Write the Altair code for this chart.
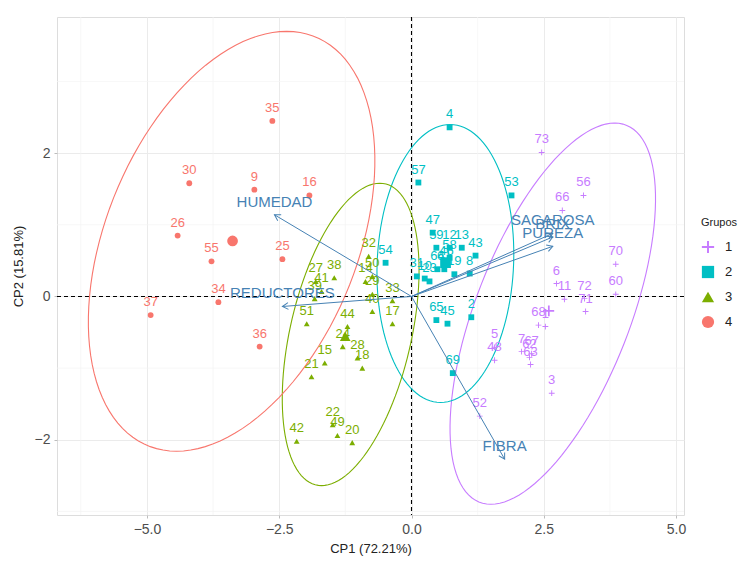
import altair as alt
import numpy as np
import pandas as pd

# ---------------- data ----------------
grupo1_id = [73, 56, 66, 70, 60, 6, 11, 72, 71, 68, 1, 5, 48, 7, 67, 62, 63, 3, 52]
grupo1_x = [2.46, 3.25, 2.85, 3.86, 3.86, 2.74, 2.89, 3.27, 3.29, 2.40, 2.53, 1.57, 1.57, 2.08, 2.27, 2.23, 2.25, 2.65, 1.29]
grupo1_y = [2.01, 1.41, 1.20, 0.45, 0.03, 0.18, -0.04, -0.03, -0.21, -0.40, -0.42, -0.71, -0.89, -0.77, -0.80, -0.85, -0.95, -1.35, -1.67]

grupo2_id = [4, 57, 53, 54, 47, 59, 12, 13, 58, 43, 61, 19, 8, 31, 10, 64, 46, 23, 2, 65, 45, 69]
grupo2_x = [0.72, 0.13, 1.89, -0.49, 0.40, 0.47, 0.72, 0.95, 0.72, 1.21, 0.62, 0.81, 1.10, 0.10, 0.25, 0.49, 0.66, 0.34, 1.13, 0.47, 0.68, 0.78]
grupo2_y = [2.36, 1.59, 1.41, 0.47, 0.89, 0.68, 0.68, 0.68, 0.54, 0.57, 0.38, 0.31, 0.32, 0.28, 0.25, 0.38, 0.45, 0.21, -0.29, -0.33, -0.38, -1.07]

grupo3_id = [32, 50, 14, 38, 27, 41, 39, 51, 44, 24, 28, 18, 15, 21, 22, 49, 20, 42, 29, 33, 17, 40]
grupo3_x = [-0.81, -0.74, -0.87, -1.46, -1.81, -1.70, -1.83, -1.98, -1.21, -1.30, -1.02, -0.93, -1.64, -1.89, -1.49, -1.40, -1.12, -2.17, -0.74, -0.36, -0.36, -0.74]
grupo3_y = [0.56, 0.28, 0.21, 0.26, 0.21, 0.07, -0.03, -0.38, -0.42, -0.70, -0.86, -1.00, -0.93, -1.12, -1.79, -1.94, -2.04, -2.02, 0.03, -0.06, -0.38, -0.21]

grupo4_id = [35, 30, 9, 16, 26, 55, 25, 34, 37, 36]
grupo4_x = [-2.63, -4.20, -2.97, -1.93, -4.42, -3.78, -2.44, -3.65, -4.93, -2.87]
grupo4_y = [2.45, 1.58, 1.49, 1.41, 0.85, 0.49, 0.52, -0.08, -0.26, -0.70]

var_names = ["HUMEDAD", "REDUCTORES", "SACAROSA", "BRIX", "PUREZA", "FIBRA"]
var_x = [-2.59, -2.44, 2.67, 2.67, 2.67, 1.76]
var_y = [1.14, -0.14, 0.88, 0.83, 0.70, -2.27]

# ellipse: centre, half conjugate diameter to the top point (ux, uy), horizontal half width v
grupos = ["1", "2", "3", "4"]
ell_cx = [2.67, 0.64, -1.15, -3.40]
ell_cy = [-0.24, 0.46, -0.53, 0.77]
ell_ux = [1.17, 0.09, 0.55, 1.04]
ell_uy = [2.66, 1.94, 2.11, 2.93]
ell_v = [1.55, 1.29, 1.17, 2.50]

colores = ["#C77CFF", "#00BFC4", "#7CAE00", "#F8766D"]
cruz = "M-1,-0.16L1,-0.16L1,0.16L-1,0.16Z M-0.16,-1L0.16,-1L0.16,1L-0.16,1Z"
formas = [cruz, "square", "triangle-up", "circle"]

x_major = [-5, -2.5, 0, 2.5, 5]
y_major = [-2, 0, 2]
x_minor = [-6.25, -3.75, -1.25, 1.25, 3.75]
y_minor = [-3, -1, 1, 3]

# ---------------- tables ----------------
rows = []
for g, ids, xs_, ys_ in [("1", grupo1_id, grupo1_x, grupo1_y), ("2", grupo2_id, grupo2_x, grupo2_y),
                         ("3", grupo3_id, grupo3_x, grupo3_y), ("4", grupo4_id, grupo4_x, grupo4_y)]:
    for i, a, b in zip(ids, xs_, ys_):
        rows.append({"Grupos": g, "id": str(i), "x": a, "y": b})
ind = pd.DataFrame(rows)

W, H = 627, 498
XDOM = [-6.7, 5.15]
YDOM = [-3.05, 3.9]
KX = W / (XDOM[1] - XDOM[0])
KY = H / (YDOM[1] - YDOM[0])

t = np.linspace(0, 2 * np.pi, 121)
erows = []
for g, cx, cy, ux, uy, v in zip(grupos, ell_cx, ell_cy, ell_ux, ell_uy, ell_v):
    for k, tt in enumerate(t):
        erows.append({"Grupos": g, "k": k,
                      "x": cx + ux * np.cos(tt) + v * np.sin(tt),
                      "y": cy + uy * np.cos(tt)})
ell = pd.DataFrame(erows)

var = pd.DataFrame({"name": var_names, "x": var_x, "y": var_y})
var["x0"] = 0.0
var["y0"] = 0.0
var["ang"] = (np.degrees(np.arctan2(var["x"] * KX, var["y"] * KY)) + 360) % 360

minor_x = pd.DataFrame({"x": x_minor})
minor_y = pd.DataFrame({"y": y_minor})
zero = pd.DataFrame({"x": [0.0], "y": [0.0]})

# ---------------- encodings ----------------
xs = alt.Scale(domain=XDOM, nice=False, zero=False)
ys = alt.Scale(domain=YDOM, nice=False, zero=False)
cscale = alt.Scale(domain=grupos, range=colores)
sscale = alt.Scale(domain=grupos, range=formas)

FONT = "Liberation Sans"
x_axis = alt.Axis(values=x_major, format=".1f", title="CP1 (72.21%)", grid=True,
                  gridColor="#EBEBEB", gridWidth=1, domain=False, tickSize=3,
                  tickColor="#BDBDBD", labelColor="#4D4D4D", labelFontSize=14,
                  labelPadding=4, titleFontSize=13, titleFontWeight="normal",
                  titleColor="#222222", titlePadding=6, labelFont=FONT, titleFont=FONT)
y_axis = alt.Axis(values=y_major, format="d", title="CP2 (15.81%)", grid=True,
                  gridColor="#EBEBEB", gridWidth=1, domain=False, tickSize=3,
                  tickColor="#BDBDBD", labelColor="#4D4D4D", labelFontSize=14,
                  labelPadding=4, titleFontSize=13, titleFontWeight="normal",
                  titleColor="#222222", titlePadding=9, labelFont=FONT, titleFont=FONT)


def X(f="x"):
    return alt.X(f + ":Q", scale=xs, axis=x_axis)


def Y(f="y"):
    return alt.Y(f + ":Q", scale=ys, axis=y_axis)


layers = []
layers.append(alt.Chart(minor_x).mark_rule(color="#F3F3F3", strokeWidth=0.7).encode(x=X()))
layers.append(alt.Chart(minor_y).mark_rule(color="#F3F3F3", strokeWidth=0.7).encode(y=Y()))
layers.append(alt.Chart(zero).mark_rule(color="black", strokeDash=[4, 3], strokeWidth=1.1).encode(x=X()))
layers.append(alt.Chart(zero).mark_rule(color="black", strokeDash=[4, 3], strokeWidth=1.1).encode(y=Y()))

for g, col in zip(grupos, colores):
    layers.append(alt.Chart(ell[ell["Grupos"] == g]).mark_line(strokeWidth=1.1, color=col).encode(
        x=X(), y=Y(), order="k:Q"))

legend = alt.Legend(title="Grupos", orient="none", legendX=644, legendY=200,
                    titleFontSize=11, titleFontWeight="normal", titleColor="#222222",
                    labelFontSize=13, labelColor="#222222", symbolSize=150,
                    rowPadding=11, titlePadding=12, labelOffset=10,
                    titleFont=FONT, labelFont=FONT)

layers.append(alt.Chart(ind).mark_point(size=34, filled=True, opacity=1).encode(
    x=X(), y=Y(),
    shape=alt.Shape("Grupos:N", scale=sscale, legend=legend),
    color=alt.Color("Grupos:N", scale=cscale, legend=legend)))

for g, col in zip(grupos, colores):
    layers.append(alt.Chart(ind[ind["Grupos"] == g]).mark_text(
        fontSize=13, dy=-13, font=FONT, color=col).encode(x=X(), y=Y(), text="id:N"))

layers.append(alt.Chart(ind).mark_point(size=115, filled=True, opacity=1).encode(
    x=alt.X("mean(x):Q", scale=xs, axis=x_axis),
    y=alt.Y("mean(y):Q", scale=ys, axis=y_axis),
    shape=alt.Shape("Grupos:N", scale=sscale, legend=legend),
    color=alt.Color("Grupos:N", scale=cscale, legend=legend)))

layers.append(alt.Chart(var).mark_rule(color="#4682B4", strokeWidth=1).encode(
    x=alt.X("x0:Q", scale=xs, axis=x_axis), y=alt.Y("y0:Q", scale=ys, axis=y_axis),
    x2="x:Q", y2="y:Q"))

layers.append(alt.Chart(var).mark_point(shape="M-0.5,0.87L0,0L0.5,0.87", size=180, filled=False,
                                        color="#4682B4", strokeWidth=1, opacity=1).encode(
    x=X(), y=Y(), angle=alt.Angle("ang:Q", scale=None)))

layers.append(alt.Chart(var).mark_text(fontSize=15, dy=-13, color="#4682B4", font=FONT).encode(
    x=X(), y=Y(), text="name:N"))

chart = alt.layer(*layers).properties(
    width=W, height=H,
    autosize=alt.AutoSizeParams(type="none"),
    padding={"left": 49, "top": 9, "right": 56, "bottom": 43},
).configure_view(stroke=None).configure(background="white")

chart.save("out.html", embed_options={"renderer": "svg", "actions": False})
